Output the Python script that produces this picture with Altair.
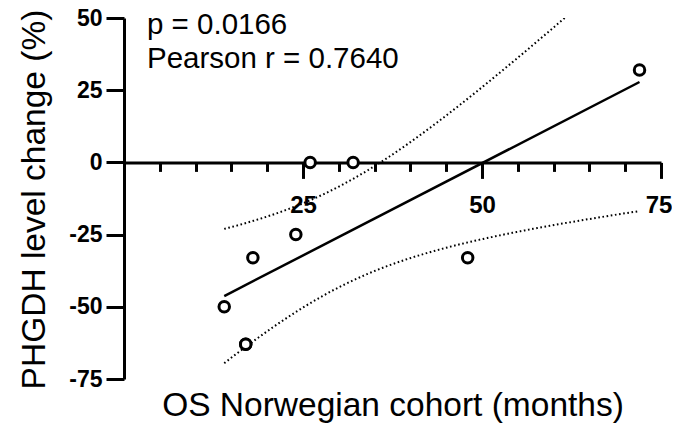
import numpy as np
import pandas as pd
import altair as alt

# ---- data ----
os_months = [14, 17, 17, 18, 24, 26, 32, 48, 72]
phgdh_change = [-50, -63, -63, -33, -25, 0, 0, -33, 32]
annotation_lines = ["p = 0.0166", "Pearson r = 0.7640"]
y_ticks = [-75, -50, -25, 0, 25, 50]
x_ticks = list(range(5, 80, 5))

FONT = "Liberation Sans"
X_DOMAIN = [0, 75]
Y_DOMAIN = [-75, 50]
W, H = 537, 361

# ---- linear fit with 95% confidence band (derived from the data) ----
x = np.array(os_months, dtype=float)
y = np.array(phgdh_change, dtype=float)
n = len(x)
slope, intercept = np.polyfit(x, y, 1)
resid = y - (slope * x + intercept)
s = np.sqrt(np.sum(resid ** 2) / (n - 2))
sxx = np.sum((x - x.mean()) ** 2)
t_crit = 2.3646  # t(0.975, df=7)
xs = np.linspace(x.min(), x.max(), 200)
fit = slope * xs + intercept
half = t_crit * s * np.sqrt(1.0 / n + (xs - x.mean()) ** 2 / sxx)

pts = pd.DataFrame({"os": os_months, "change": phgdh_change})
fit_df = pd.DataFrame({"os": [x.min(), x.max()],
                       "change": [slope * x.min() + intercept, slope * x.max() + intercept]})
band_df = pd.concat([
    pd.DataFrame({"os": xs, "change": fit + half, "side": "upper"}),
    pd.DataFrame({"os": xs, "change": fit - half, "side": "lower"}),
])

y0_offset = -(H * (0 - Y_DOMAIN[0]) / (Y_DOMAIN[1] - Y_DOMAIN[0]))  # move x-axis to y = 0
axis_y_pos = H + y0_offset

x_enc = alt.X(
    "os:Q",
    scale=alt.Scale(domain=X_DOMAIN, nice=False, zero=False),
    axis=alt.Axis(
        values=x_ticks,
        offset=y0_offset,
        grid=False,
        domainColor="black", domainWidth=3,
        tickColor="black", tickWidth=3,
        tickSize={"condition": {"test": "datum.value % 25 === 0", "value": 16}, "value": 9},
        labelExpr="datum.value % 25 === 0 ? datum.label : ''",
        labelOffset={"condition": {"test": "datum.value === 75", "value": -2.5}, "value": 0},
        labelFont=FONT, labelFontSize=24, labelFontWeight="bold", labelColor="black",
        labelPadding=15, labelFlush=False, labelOverlap=False,
        title="OS Norwegian cohort (months)",
        titleFont=FONT, titleFontSize=33.5, titleFontWeight="normal", titleColor="black",
        titleBaseline="alphabetic", titleY=415 - 18 - axis_y_pos,
    ),
)
y_enc = alt.Y(
    "change:Q",
    scale=alt.Scale(domain=Y_DOMAIN, nice=False, zero=False),
    axis=alt.Axis(
        values=y_ticks,
        grid=False,
        domainColor="black", domainWidth=3,
        tickColor="black", tickWidth=3, tickSize=18,
        labelExpr="replace(datum.label, '\u2212', '-')",
        labelFont=FONT, labelFontSize=23, labelFontWeight="bold", labelColor="black",
        labelPadding=4, labelFlush=False, labelOverlap=False,
        title="PHGDH level change (%)",
        titleFont=FONT, titleFontSize=33.5, titleFontWeight="normal", titleColor="black",
        titleBaseline="alphabetic", titleAngle=270, titleAlign="center",
        titleX=44 - 124, titleY=199 - 18,
    ),
)

band = alt.Chart(band_df).mark_line(
    color="black", strokeWidth=2, strokeDash=[1.6, 2.6], clip=True
).encode(x=x_enc, y=y_enc, detail="side:N")

fit_line = alt.Chart(fit_df).mark_line(color="black", strokeWidth=2.5, clip=True).encode(
    x=x_enc, y=y_enc
)

points = alt.Chart(pts).mark_point(
    shape="circle", filled=True, fill="white", stroke="black", strokeWidth=3,
    size=110, opacity=1
).encode(x=x_enc, y=y_enc)

note = alt.Chart(alt.Data(values=[{}])).mark_text(
    align="left", baseline="alphabetic", font=FONT, fontSize=29.5,
    lineHeight=34, color="black"
).encode(x=alt.value(147 - 124), y=alt.value(34 - 18), text=alt.value(annotation_lines))

chart = alt.layer(band, fit_line, points, note).properties(
    width=W, height=H,
    autosize=alt.AutoSizeParams(type="none"),
    padding={"left": 116, "top": 10, "right": 11, "bottom": 44},
    background="white",
).configure_view(stroke=None)

chart.save("out.html", embed_options={"renderer": "svg", "actions": False})
